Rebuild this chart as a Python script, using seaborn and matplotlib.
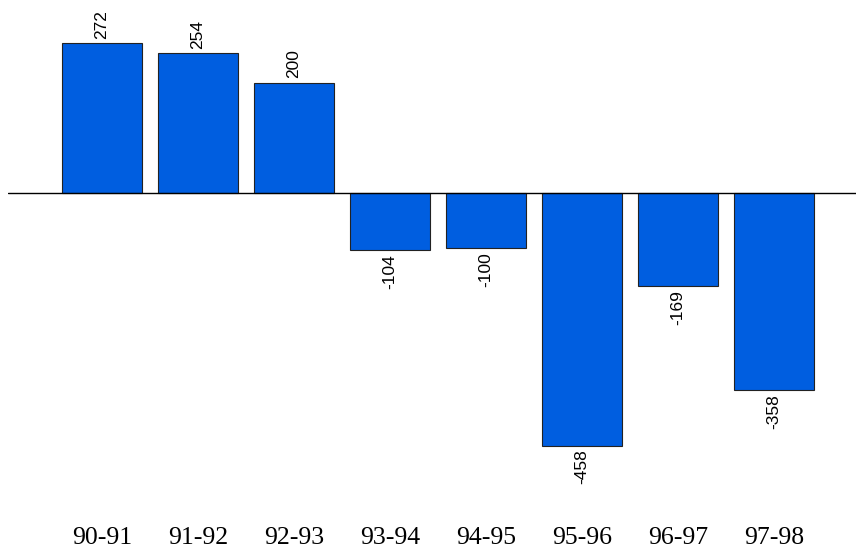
import matplotlib
matplotlib.use("Agg")
import matplotlib.pyplot as plt
import seaborn as sns
import pandas as pd

periods = ["90-91", "91-92", "92-93", "93-94", "94-95", "95-96", "96-97", "97-98"]
values = [272, 254, 200, -104, -100, -458, -169, -358]

df = pd.DataFrame({"period": periods, "value": values})

sns.set_style("white")

fig = plt.figure(figsize=(8.56, 5.5), dpi=100)
ax = fig.add_axes([8 / 856, 40 / 550, 848 / 856, 510 / 550])

sns.barplot(data=df, x="period", y="value", color="#005EE0", saturation=1,
            width=0.833, edgecolor="#222222", linewidth=0.8, ax=ax)

ax.axhline(0, color="black", linewidth=1.0, zorder=3)

for i, v in enumerate(values):
    if v >= 0:
        ax.text(i, v + 8, str(v), rotation=90, ha="center", va="bottom",
                fontsize=12.5, family="Liberation Sans", color="black")
    else:
        ax.text(i, v - 7, str(v), rotation=90, ha="center", va="top",
                fontsize=12.5, family="Liberation Sans", color="black")

ax.set_xlim(-0.979, 7.854)
ax.set_ylim(-574.8, 350)
ax.set_xlabel("")
ax.set_ylabel("")
ax.set_yticks([])
ax.tick_params(axis="x", length=0, pad=12, colors="black")
for lbl in ax.get_xticklabels():
    lbl.set_fontfamily("Liberation Serif")
    lbl.set_fontsize(18.5)
for s in ax.spines.values():
    s.set_visible(False)

fig.savefig("out.png", dpi=100)
